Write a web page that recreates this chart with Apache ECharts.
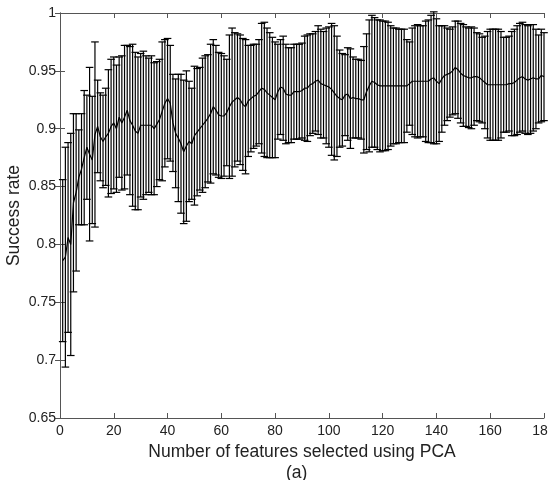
<!DOCTYPE html>
<html>
<head>
<meta charset="utf-8">
<script src="https://cdn.jsdelivr.net/npm/echarts@6/dist/echarts.min.js"></script>
<style>
  html, body { margin: 0; padding: 0; background: #fff; }
  #chart { width: 548px; height: 480px; }
</style>
</head>
<body>
<div id="chart"></div>
<script>
// success rate (mean over runs) for 1..180 PCA features
var meanRate = [
  0.786, 0.789, 0.806, 0.800, 0.836, 0.845, 0.858, 0.865, 0.875, 0.884,
  0.878, 0.873, 0.895, 0.902, 0.893, 0.889, 0.893, 0.896, 0.902, 0.905,
  0.900, 0.910, 0.905, 0.910, 0.916, 0.907, 0.903, 0.898, 0.896, 0.903,
  0.903, 0.903, 0.903, 0.903, 0.900, 0.904, 0.908, 0.915, 0.922, 0.926,
  0.922, 0.905, 0.896, 0.892, 0.887, 0.880, 0.885, 0.889, 0.887, 0.894,
  0.897, 0.900, 0.903, 0.906, 0.909, 0.913, 0.919, 0.916, 0.912, 0.911,
  0.911, 0.914, 0.919, 0.923, 0.925, 0.927, 0.925, 0.921, 0.919, 0.924,
  0.926, 0.928, 0.929, 0.932, 0.935, 0.934, 0.931, 0.929, 0.927, 0.925,
  0.932, 0.936, 0.935, 0.930, 0.929, 0.929, 0.932, 0.932, 0.932, 0.933,
  0.935, 0.935, 0.938, 0.939, 0.941, 0.942, 0.939, 0.938, 0.937, 0.936,
  0.934, 0.931, 0.928, 0.926, 0.925, 0.929, 0.930, 0.926, 0.927, 0.926,
  0.926, 0.925, 0.925, 0.932, 0.937, 0.941, 0.940, 0.938, 0.937, 0.937,
  0.937, 0.937, 0.937, 0.937, 0.937, 0.937, 0.937, 0.937, 0.937, 0.939,
  0.941, 0.941, 0.941, 0.941, 0.941, 0.941, 0.941, 0.943, 0.944, 0.941,
  0.939, 0.943, 0.946, 0.947, 0.948, 0.950, 0.953, 0.951, 0.948, 0.946,
  0.945, 0.944, 0.944, 0.945, 0.945, 0.944, 0.942, 0.940, 0.938, 0.938,
  0.938, 0.938, 0.938, 0.938, 0.938, 0.938, 0.939, 0.939, 0.940, 0.942,
  0.944, 0.945, 0.943, 0.942, 0.943, 0.944, 0.943, 0.943, 0.946, 0.945
];

// half length of each error bar
var errRate = [
  0.070, 0.095, 0.082, 0.096, 0.077, 0.068, 0.041, 0.048, 0.058, 0.045,
  0.075, 0.055, 0.080, 0.040, 0.038, 0.040, 0.042, 0.055, 0.058, 0.057,
  0.055, 0.052, 0.058, 0.062, 0.056, 0.064, 0.070, 0.068, 0.066, 0.062,
  0.064, 0.060, 0.058, 0.060, 0.057, 0.054, 0.052, 0.060, 0.055, 0.052,
  0.050, 0.042, 0.047, 0.055, 0.060, 0.062, 0.065, 0.052, 0.048, 0.060,
  0.055, 0.053, 0.058, 0.057, 0.055, 0.060, 0.058, 0.056, 0.054, 0.054,
  0.052, 0.046, 0.062, 0.064, 0.058, 0.055, 0.056, 0.057, 0.058, 0.048,
  0.046, 0.045, 0.044, 0.045, 0.056, 0.058, 0.056, 0.054, 0.052, 0.050,
  0.041, 0.041, 0.045, 0.043, 0.041, 0.041, 0.041, 0.041, 0.041, 0.041,
  0.045, 0.046, 0.044, 0.043, 0.043, 0.047, 0.047, 0.046, 0.050, 0.052,
  0.057, 0.058, 0.052, 0.042, 0.040, 0.035, 0.040, 0.043, 0.035, 0.034,
  0.034, 0.034, 0.046, 0.050, 0.057, 0.057, 0.056, 0.056, 0.057, 0.056,
  0.056, 0.055, 0.052, 0.050, 0.050, 0.049, 0.049, 0.049, 0.040, 0.036,
  0.046, 0.048, 0.049, 0.048, 0.048, 0.052, 0.053, 0.055, 0.057, 0.054,
  0.050, 0.046, 0.043, 0.040, 0.038, 0.038, 0.040, 0.042, 0.043, 0.044,
  0.043, 0.043, 0.044, 0.042, 0.038, 0.038, 0.037, 0.040, 0.046, 0.048,
  0.048, 0.048, 0.048, 0.046, 0.041, 0.041, 0.041, 0.045, 0.046, 0.047,
  0.047, 0.047, 0.047, 0.047, 0.047, 0.046, 0.043, 0.038, 0.040, 0.038
];

var xTicks = { min: 0, max: 180, step: 20 };
var yTicks = { min: 0.65, max: 1, step: 0.05 };

var chart = echarts.init(document.getElementById('chart'));

var lineData = [];
var barData = [];
for (var i = 0; i < meanRate.length; i++) {
  lineData.push([i + 1, meanRate[i]]);
  barData.push([i + 1, meanRate[i], meanRate[i] - errRate[i], meanRate[i] + errRate[i]]);
}

var font = 'Liberation Sans';

function renderBar(params, api) {
  var x = api.value(0);
  var lo = api.coord([x, api.value(2)]);
  var hi = api.coord([x, api.value(3)]);
  var w = 3.8;
  var st = { stroke: '#000', lineWidth: 1.2 };
  return {
    type: 'group',
    children: [
      { type: 'line', shape: { x1: lo[0], y1: lo[1], x2: hi[0], y2: hi[1] }, style: st },
      { type: 'line', shape: { x1: hi[0] - w, y1: hi[1], x2: hi[0] + w, y2: hi[1] }, style: st },
      { type: 'line', shape: { x1: lo[0] - w, y1: lo[1], x2: lo[0] + w, y2: lo[1] }, style: st }
    ]
  };
}

var axisCommon = {
  axisLine: { show: true, lineStyle: { color: '#555', width: 1 } },
  axisTick: { show: true, inside: true, length: 5, lineStyle: { color: '#555' } },
  splitLine: { show: false }
};

option = {
  animation: false,
  backgroundColor: '#fff',
  grid: { left: 60, right: 4, top: 13, bottom: 62, outerBoundsMode: 'none', containLabel: false },
  xAxis: [
    Object.assign({
      type: 'value', position: 'bottom',
      min: xTicks.min, max: xTicks.max, interval: xTicks.step,
      name: 'Number of features selected using PCA',
      nameLocation: 'middle', nameGap: 23,
      nameTextStyle: { fontFamily: font, fontSize: 17.5, color: '#222' },
      axisLabel: { fontFamily: font, fontSize: 14, color: '#222', margin: 6 }
    }, axisCommon),
    Object.assign({
      type: 'value', position: 'top',
      min: xTicks.min, max: xTicks.max, interval: xTicks.step,
      axisLabel: { show: false }
    }, axisCommon)
  ],
  yAxis: [
    Object.assign({
      type: 'value', position: 'left',
      min: yTicks.min, max: yTicks.max, interval: yTicks.step,
      name: 'Success rate',
      nameLocation: 'middle', nameGap: 37, nameMoveOverlap: false,
      nameTextStyle: { fontFamily: font, fontSize: 17.5, color: '#222' },
      axisLabel: {
        fontFamily: font, fontSize: 14, color: '#222', margin: 4,
        formatter: function (v) { return String(+v.toFixed(2)); }
      }
    }, axisCommon),
    Object.assign({
      type: 'value', position: 'right',
      min: yTicks.min, max: yTicks.max, interval: yTicks.step,
      axisLabel: { show: false }
    }, axisCommon)
  ],
  graphic: [
    {
      type: 'text', left: 286, top: 464,
      style: { text: '(a)', font: '17.5px "Liberation Sans"', fill: '#222' }
    }
  ],
  series: [
    {
      name: 'error',
      type: 'custom',
      xAxisIndex: 0, yAxisIndex: 0,
      renderItem: renderBar,
      encode: { x: 0, y: [2, 3] },
      data: barData,
      z: 2
    },
    {
      name: 'mean',
      type: 'line',
      xAxisIndex: 0, yAxisIndex: 0,
      showSymbol: false,
      lineStyle: { color: '#000', width: 1.2 },
      data: lineData,
      z: 3
    }
  ]
};

chart.setOption(option);
</script>
</body>
</html>
